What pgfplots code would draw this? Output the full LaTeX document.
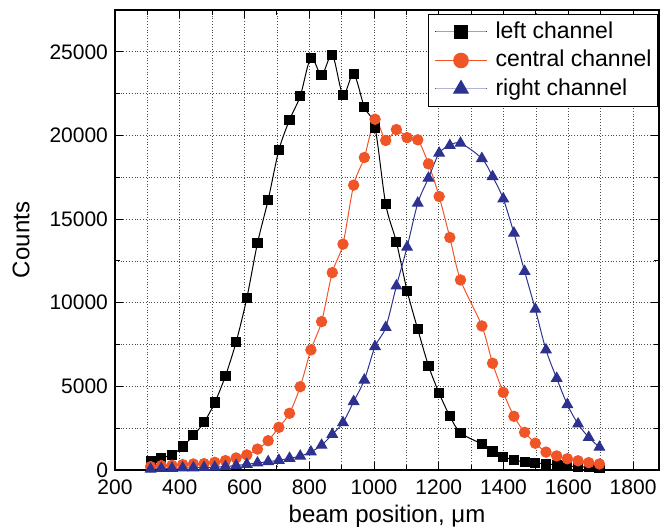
\documentclass[border=0pt]{standalone}
\usepackage{pgfplots}
\pgfplotsset{compat=1.18}
\usepackage{fontspec}
\setmainfont{Liberation Sans}

\definecolor{chorange}{RGB}{240,85,40}
\definecolor{chblue}{RGB}{45,50,145}

% x = beam position (um), columns: left, central, right channel
\pgfplotstableread{
x    left   central right
310  510    200     50
343  740    260     90
376  900    280     100
409  1400   320     120
442  2070   360     130
475  2850   380     150
508  4030   460     170
541  5620   560     210
574  7650   720     270
607  10270  900     340
640  13560  1250    420
673  16150  1750    500
706  19120  2550    580
739  20930  3390    700
772  22350  4980    830
805  24640  7180    1080
838  23600  8870    1480
871  24820  11800   2130
904  22430  13500   2830
937  23680  17030   4090
970  21690  18680   5380
1003 20470  20970   7380
1036 15890  19700   8520
1069 13620  20350   11000
1102 10720  19870   13320
1135 8410   19740   15950
1168 6240   18300   17450
1201 4590   16350   18940
1234 3220   13900   19400
1267 2220   11360   19540
1333 1550   8610    18620
1366 1110   6380    17540
1399 800    4640    16210
1432 590    3210    14160
1465 490    2250    11870
1498 440    1600    9610
1531 350    1070    7180
1564 320    840     5480
1597 240    670     3910
1630 200    550     2750
1663 160    440     1950
1696 120    360     1360
}\beam

\newcommand{\lf}{\fontsize{11.5}{13.75}\selectfont}

\begin{document}
\begin{tikzpicture}
\useasboundingbox (-57.5pt,-29pt) rectangle (273.5pt,235pt);
\begin{axis}[
    scale only axis,
    width=272pt, height=230pt,
    xmin=200, xmax=1880,
    ymin=0, ymax=27500,
    xtick={200,400,...,1800},
    ytick={0,5000,...,25000},
    minor tick num=1,
    grid=both,
    major grid style={densely dotted, black!70, line width=0.4pt},
    minor grid style={densely dotted, black!70, line width=0.4pt},
    major tick length=4pt,
    minor tick length=2.5pt,
    tick style={black, line width=0.5pt},
    axis line style={line width=0.6pt},
    scaled y ticks=false,
    /pgf/number format/1000 sep={},
    /pgf/number format/assume math mode=true,
    tick label style={font=\fontsize{10.5}{12}\selectfont},
    xticklabel style={yshift=-1.2pt},
    xlabel={beam position, μm},
    ylabel={Counts},
    xlabel style={font=\fontsize{12}{14}\selectfont,
        at={(axis description cs:0.5,0)}, anchor=base, yshift=-26.3pt},
    ylabel style={font=\fontsize{12}{14}\selectfont,
        at={(axis description cs:0,0.5)}, anchor=center, yshift=47pt},
    legend style={at={(1,1)}, anchor=north east, xshift=-0.5pt, yshift=-2pt,
        draw=black, line width=0.5pt,
        nodes={inner sep=0pt, text height=9pt, text depth=2.5pt},
        row sep=2.75pt, column sep=4pt,
        inner xsep=3pt, inner ysep=3pt},
    legend cell align=left,
    legend image code/.code={\draw[#1,mark repeat=2,mark phase=2,
        every mark/.append style={scale=1.4}]
        plot coordinates {(0cm,0cm) (13pt,0cm) (26pt,0cm)};},
    every axis plot/.append style={line width=0.5pt, smooth, tension=0.5},
]
\addplot[black, mark=square*, mark size=2.3pt,
    mark options={solid, fill=black}] table[x=x, y=left] {\beam};
\addplot[chorange, mark=*, mark size=2.6pt,
    mark options={solid, fill=chorange}] table[x=x, y=central] {\beam};
\addplot[chblue, mark=triangle*, mark size=3pt,
    mark options={solid, fill=chblue}] table[x=x, y=right] {\beam};
\legend{\lf left channel, \lf central channel, \lf right channel}
\end{axis}
\end{tikzpicture}
\end{document}
